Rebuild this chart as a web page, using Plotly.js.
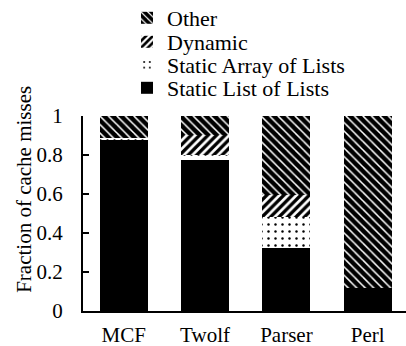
<!DOCTYPE html>
<html>
<head>
<meta charset="utf-8">
<script src="https://cdn.plot.ly/plotly-3.0.1.min.js"></script>
<style>html,body{margin:0;padding:0;background:#fff;}#chart{width:406px;height:346px;}</style>
</head>
<body>
<div id="chart"></div>
<script>
const categories = ["MCF", "Twolf", "Parser", "Perl"];
const staticListOfLists = [0.877, 0.776, 0.325, 0.117];
const staticArrayOfLists = [0.012, 0.022, 0.155, 0.0];
const dynamic = [0.0, 0.106, 0.115, 0.0];
const other = [0.111, 0.096, 0.405, 0.883];
const yTickVals = [0, 0.2, 0.4, 0.6, 0.8, 1];
const yTickText = ["0", "0.2", "0.4", "0.6", "0.8", "1"];

const FONT = "'Liberation Serif', 'Times New Roman', serif";

const traces = [
  {
    type: "bar", name: "Static List of Lists", x: categories, y: staticListOfLists,
    legend: "legend4",
    marker: {color: "black", line: {width: 0}}
  },
  {
    type: "bar", name: "Static Array of Lists", x: categories, y: staticArrayOfLists,
    legend: "legend3",
    marker: {color: "white", line: {width: 0},
      pattern: {shape: ".", bgcolor: "white", fgcolor: "black", size: 7, solidity: 0.1, fillmode: "replace"}}
  },
  {
    type: "bar", name: "Dynamic", x: categories, y: dynamic,
    legend: "legend2",
    marker: {color: "white", line: {width: 0},
      pattern: {shape: "/", bgcolor: "white", fgcolor: "black", size: 6, solidity: 0.55, fillmode: "replace"}}
  },
  {
    type: "bar", name: "Other", x: categories, y: other,
    legend: "legend",
    marker: {color: "black", line: {width: 0},
      pattern: {shape: "\\", bgcolor: "black", fgcolor: "white", size: 6, solidity: 0.25, fillmode: "replace"}}
  }
];

// plot area: x 83..406 px, y 116 (1.0) .. 311 (0)
function legendAt(yPx) {
  return {
    xref: "paper", yref: "paper",
    x: (127 - 83) / 323, xanchor: "left",
    y: (311 - yPx) / 195, yanchor: "middle",
    font: {family: FONT, size: 22, color: "black"},
    bgcolor: "rgba(0,0,0,0)",
    itemwidth: 30
  };
}

const layout = {
  width: 406, height: 346,
  margin: {l: 83, r: 0, t: 116, b: 35, autoexpand: false},
  paper_bgcolor: "white", plot_bgcolor: "white",
  font: {family: FONT, size: 21, color: "black"},
  barmode: "stack",
  bargap: 0.41,
  showlegend: true,
  legend: legendAt(18),
  legend2: legendAt(42),
  legend3: legendAt(65),
  legend4: legendAt(88),
  xaxis: {
    type: "category",
    range: [-0.5, 3.47],
    showline: true, linecolor: "black", linewidth: 2,
    ticks: "", showgrid: false, zeroline: false,
    tickangle: 0, automargin: false,
    tickfont: {family: FONT, size: 21, color: "black"},
    ticklabelstandoff: 4
  },
  yaxis: {
    range: [0, 1],
    showline: true, linecolor: "black", linewidth: 2,
    ticks: "inside", ticklen: 6, tickwidth: 2, tickcolor: "black",
    tickvals: yTickVals, ticktext: yTickText,
    showgrid: false, zeroline: false, automargin: false,
    tickfont: {family: FONT, size: 21, color: "black"},
    ticklabelstandoff: 14
  },
  annotations: [{
    text: "Fraction of cache misses",
    xref: "paper", yref: "paper",
    x: -0.183, y: 0.626,
    xanchor: "center", yanchor: "middle",
    textangle: -90, showarrow: false,
    font: {family: FONT, size: 21, color: "black"}
  }]
};

Plotly.newPlot("chart", traces, layout, {displayModeBar: false, staticPlot: true});
</script>
</body>
</html>
